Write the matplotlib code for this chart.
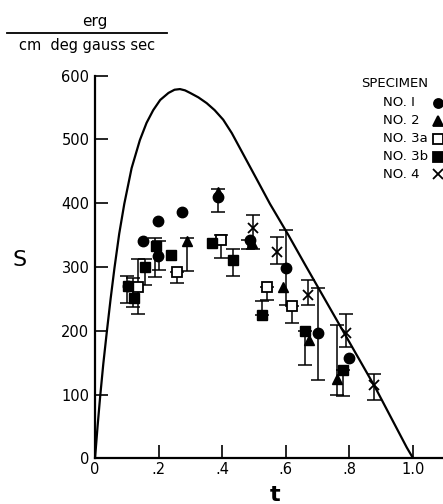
import numpy as np
import matplotlib
matplotlib.use("Agg")
import matplotlib.pyplot as plt
from matplotlib.lines import Line2D

plt.rcParams['font.family'] = ['DejaVu Sans']

# theoretical curve
curve_t = [0.0, 0.008, 0.016, 0.026, 0.037, 0.049, 0.061, 0.076, 0.092, 0.115,
           0.141, 0.162, 0.183, 0.205, 0.231, 0.250, 0.267, 0.283, 0.299, 0.325,
           0.351, 0.376, 0.403, 0.430, 0.456, 0.508, 0.550, 0.608, 0.660, 0.770,
           0.880, 0.980, 1.0]
curve_S = [0, 50, 96, 148, 198, 250, 298, 352, 399, 455,
           499, 526, 546, 562, 573, 578, 579, 577, 573, 566,
           557, 546, 531, 510, 486, 438, 399, 350, 304, 208,
           112, 17, 0]

# NO. 1 (filled circle)
t1 = [0.105, 0.152, 0.198, 0.197, 0.273, 0.388, 0.488, 0.600, 0.700, 0.800]
S1 = [270, 341, 318, 372, 387, 410, 342, 298, 196, 158]
# NO. 2 (filled triangle)
t2 = [0.290, 0.388, 0.494, 0.590, 0.674, 0.760]
S2 = [340, 418, 338, 268, 186, 125]
# NO. 3a (open square)
t3a = [0.134, 0.259, 0.396, 0.540, 0.620]
S3a = [269, 292, 343, 268, 239]
# NO. 3b (filled square)
t3b = [0.105, 0.123, 0.157, 0.192, 0.238, 0.367, 0.435, 0.525, 0.660, 0.780]
S3b = [270, 252, 300, 333, 319, 337, 311, 225, 200, 139]
# NO. 4 (X)
t4 = [0.498, 0.571, 0.671, 0.790, 0.878]
S4 = [361, 324, 256, 197, 115]

# error bars: t, low, high
err_t = [0.100, 0.118, 0.134, 0.157, 0.190, 0.200, 0.259, 0.290, 0.388, 0.396,
         0.435, 0.482, 0.498, 0.540, 0.525, 0.571, 0.600, 0.620, 0.671, 0.660,
         0.700, 0.760, 0.780, 0.790, 0.878]
err_lo = [243, 238, 226, 272, 284, 296, 275, 293, 387, 314,
          286, 328, 329, 249, 225, 305, 240, 212, 240, 146,
          122, 99, 97, 175, 92]
err_hi = [286, 283, 312, 312, 345, 340, 292, 345, 422, 350,
          329, 342, 381, 268, 246, 347, 358, 239, 280, 200,
          267, 209, 138, 226, 132]

x_ticks = [0, 0.2, 0.4, 0.6, 0.8, 1.0]
x_labels = ['0', '.2', '.4', '.6', '.8', '1.0']
y_ticks = [0, 100, 200, 300, 400, 500, 600]

fig = plt.figure(figsize=(4.43, 5.04), dpi=100)
ax = fig.add_axes([0.2145, 0.0907, 0.7855, 0.7591])
ax.set_xlim(0, 1.094)
ax.set_ylim(0, 600)

ax.plot(curve_t, curve_S, color='black', lw=1.6, solid_joinstyle='round')

err_t_a = np.array(err_t)
lo = np.array(err_lo)
hi = np.array(err_hi)
ax.errorbar(err_t_a, lo, yerr=[np.zeros_like(lo), hi - lo], fmt='none',
            ecolor='black', elinewidth=1.1, capsize=5, capthick=1.1)

ms = 7.5
ax.plot(t1, S1, 'o', color='black', ms=ms, ls='none')
ax.plot(t2, S2, '^', color='black', ms=ms, ls='none')
ax.plot(t3a, S3a, 's', mfc='white', mec='black', mew=1.3, ms=ms - 0.5, ls='none')
ax.plot(t3b, S3b, 's', color='black', ms=ms, ls='none')
ax.plot(t4, S4, 'x', color='black', ms=ms, mew=1.3, ls='none')

for side in ['top', 'right']:
    ax.spines[side].set_visible(False)
for side in ['left', 'bottom']:
    ax.spines[side].set_linewidth(1.6)

ax.set_xticks(x_ticks)
ax.set_xticklabels(x_labels)
ax.set_yticks(y_ticks)
ax.tick_params(axis='both', direction='in', length=9.5, width=1.2,
               labelsize=10.5, pad=4)
ax.tick_params(axis='x', pad=3)

fig.text(0.045, 0.485, 'S', fontsize=16, ha='center', va='center')
fig.text(0.62, 0.018, 't', fontsize=16, ha='center', va='center', fontweight='bold')

# units
fig.text(0.215, 0.958, 'erg', fontsize=11, ha='center', va='center')
fig.add_artist(Line2D([0.016, 0.377], [0.935, 0.935], color='black', lw=1.3,
                      transform=fig.transFigure))
fig.text(0.197, 0.91, 'cm  deg gauss sec', fontsize=10.5, ha='center', va='center')

# legend
fig.text(0.815, 0.835, 'SPECIMEN', fontsize=9.5, ha='left', va='center')
leg_labels = ['NO. I', 'NO. 2', 'NO. 3a', 'NO. 3b', 'NO. 4']
leg_y = [103, 121, 139, 157, 174]
leg_markers = [('o', 'black'), ('^', 'black'), ('s', 'white'), ('s', 'black'), ('x', 'black')]
for lab, yy, (mk, fc) in zip(leg_labels, leg_y, leg_markers):
    fy = 1 - yy / 504
    fig.text(383 / 443, fy, lab, fontsize=9.5, ha='left', va='center')
    fig.add_artist(Line2D([438 / 443], [fy], marker=mk, mfc=fc, mec='black',
                          color='black', ms=6.5, mew=1.3, ls='none',
                          transform=fig.transFigure, clip_on=False))

fig.savefig('out.png', dpi=100)
